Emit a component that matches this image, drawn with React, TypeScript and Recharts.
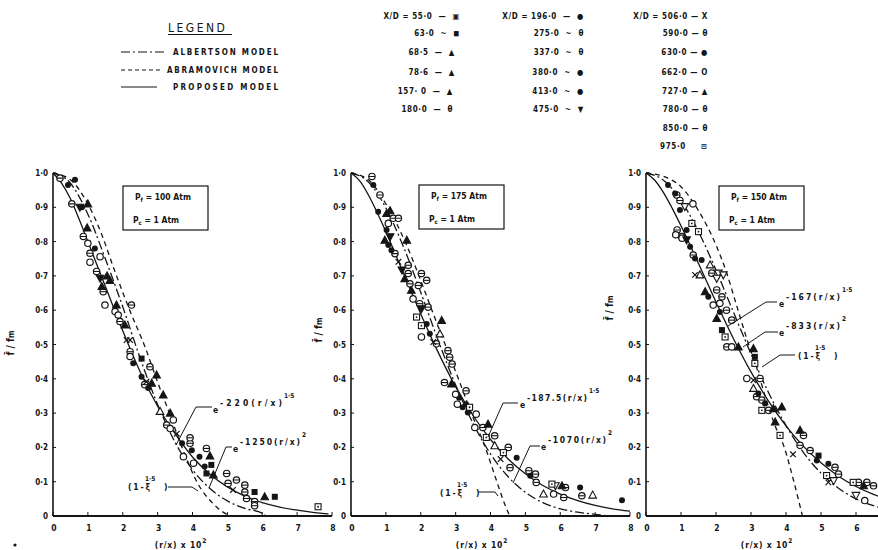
import React from 'react';
import { ComposedChart, Line, Scatter, XAxis, YAxis } from 'recharts';

// ticks
const X_TICKS_8 = [0, 1, 2, 3, 4, 5, 6, 7, 8];
const X_TICKS_6 = [0, 1, 2, 3, 4, 5, 6];
const Y_TICKS = [0, 0.1, 0.2, 0.3, 0.4, 0.5, 0.6, 0.7, 0.8, 0.9, 1];
const Y_TICK_LABELS = ['0', '0·1', '0·2', '0·3', '0·4', '0·5', '0·6', '0·7', '0·8', '0·9', '1·0'];

// --- Pf = 100 Atm : curves ---
const P1_PROPOSED_X = [0, 0.25, 0.5, 0.75, 1, 1.5, 2, 2.5, 3, 3.5, 4, 4.5, 5, 5.5, 6, 6.5, 7, 7.5, 7.9];
const P1_PROPOSED_Y = [1, 0.97, 0.925, 0.865, 0.8, 0.67, 0.54, 0.42, 0.32, 0.24, 0.172, 0.122, 0.085, 0.058, 0.039, 0.026, 0.017, 0.01, 0.006];
const P1_ALBERTSON_X = [0, 0.5, 1, 1.5, 2, 2.5, 3, 3.5, 4, 4.5, 5, 5.5, 6, 6.1];
const P1_ALBERTSON_Y = [1, 0.97, 0.88, 0.75, 0.61, 0.46, 0.325, 0.215, 0.135, 0.08, 0.044, 0.022, 0.008, 0];
const P1_ABRAMOVICH_X = [0, 0.5, 1, 1.4, 1.75, 2.2, 2.65, 3, 3.3, 3.7, 4.15, 4.6, 5.05];
const P1_ABRAMOVICH_Y = [1, 0.98, 0.91, 0.82, 0.72, 0.6, 0.49, 0.39, 0.31, 0.2, 0.095, 0.035, 0];

// --- Pf = 100 Atm : measured points ---
const P1_THETA = [[0.2, 0.985], [0.54, 0.91], [0.87, 0.815], [1.06, 0.766], [1.25, 0.713], [1.44, 0.654], [1.92, 0.567], [2.25, 0.615], [2.21, 0.479], [2.78, 0.435], [2.63, 0.383], [3.26, 0.265], [3.93, 0.212], [3.93, 0.228], [4.4, 0.197], [4.98, 0.124], [5.02, 0.095], [5.26, 0.105], [5.5, 0.09], [5.5, 0.07], [5.55, 0.051], [5.78, 0.042], [5.78, 0.03]];
const P1_FILLED = [[0.43, 0.965], [0.63, 0.98], [0.83, 0.9], [1.2, 0.78], [2.3, 0.445], [2.54, 0.406], [2.73, 0.373], [3.7, 0.212], [3.98, 0.192], [4.2, 0.173], [4.35, 0.144]];
const P1_OPEN = [[1.06, 0.74], [1.0, 0.795], [1.35, 0.756], [1.49, 0.615], [1.78, 0.596], [1.87, 0.586], [2.21, 0.465], [3.36, 0.255], [3.45, 0.28], [3.74, 0.173], [4.03, 0.154]];
const P1_TRI = [[1.0, 0.91], [0.98, 0.84], [1.4, 0.669], [1.55, 0.7], [1.63, 0.687], [1.82, 0.615], [2.06, 0.557], [2.83, 0.387], [2.97, 0.411], [3.16, 0.353], [3.36, 0.3], [4.5, 0.175], [4.6, 0.12], [6.07, 0.056]];
const P1_OPEN_TRI = [[3.07, 0.305]];
const P1_DOWN_TRI = [[0.77, 0.9], [1.35, 0.693]];
const P1_SQUARE = [[2.54, 0.459], [4.54, 0.149], [4.4, 0.124], [5.78, 0.07], [6.36, 0.056]];
const P1_OPEN_SQUARE = [[7.6, 0.027]];
const P1_CROSS = [[2.11, 0.513], [2.21, 0.513], [2.68, 0.392], [3.55, 0.24], [5.16, 0.076]];

// --- Pf = 175 Atm : curves ---
const P2_PROPOSED_X = [0, 0.25, 0.5, 0.75, 1, 1.5, 2, 2.5, 3, 3.5, 4, 4.5, 5, 5.5, 6, 6.5, 7, 7.5, 8];
const P2_PROPOSED_Y = [1, 0.977, 0.936, 0.885, 0.829, 0.709, 0.589, 0.477, 0.377, 0.293, 0.223, 0.167, 0.123, 0.089, 0.064, 0.045, 0.031, 0.021, 0.014];
const P2_ALBERTSON_X = [0, 0.5, 1, 1.5, 2, 2.5, 3, 3.5, 4, 4.5, 5, 5.5, 6, 6.5, 7, 7.4];
const P2_ALBERTSON_Y = [1, 0.974, 0.898, 0.786, 0.652, 0.512, 0.382, 0.27, 0.181, 0.115, 0.069, 0.039, 0.021, 0.011, 0.005, 0];
const P2_ABRAMOVICH_X = [0, 0.5, 1, 1.55, 1.95, 2.32, 2.7, 3.08, 3.45, 3.85, 4.15, 4.35, 4.55];
const P2_ABRAMOVICH_Y = [1, 0.98, 0.91, 0.8, 0.7, 0.6, 0.5, 0.4, 0.3, 0.2, 0.11, 0.05, 0];

// --- Pf = 175 Atm : measured points ---
const P2_THETA = [[0.6, 0.99], [0.83, 0.936], [1.21, 0.868], [1.36, 0.868], [1.26, 0.765], [1.64, 0.731], [1.64, 0.707], [1.69, 0.677], [1.93, 0.672], [2.02, 0.707], [2.17, 0.687], [1.97, 0.619], [2.21, 0.609], [2.45, 0.502], [2.78, 0.482], [2.83, 0.463], [2.9, 0.443], [2.68, 0.389], [3.3, 0.365], [3.78, 0.258], [4.12, 0.234], [4.51, 0.2], [4.56, 0.141], [5.1, 0.132], [5.29, 0.122], [5.31, 0.098], [6.15, 0.083], [6.1, 0.054], [6.62, 0.059]];
const P2_FILLED = [[0.64, 0.965], [0.78, 0.887], [1.02, 0.834], [1.07, 0.79], [1.16, 0.775], [2.17, 0.56], [2.26, 0.531], [3.1, 0.345], [3.2, 0.317], [3.3, 0.326], [3.35, 0.302], [4.75, 0.17], [5.14, 0.117], [6.57, 0.083], [7.77, 0.046]];
const P2_OPEN = [[1.07, 0.853], [1.78, 0.633], [2.02, 0.522], [3.0, 0.355], [3.05, 0.326], [3.59, 0.297], [3.55, 0.258], [5.81, 0.064]];
const P2_TRI = [[1.02, 0.882], [1.12, 0.89], [0.97, 0.804], [1.6, 0.804], [1.54, 0.692], [1.73, 0.658], [2.6, 0.57], [2.88, 0.385], [3.93, 0.268], [6.05, 0.088]];
const P2_OPEN_TRI = [[2.55, 0.531], [4.12, 0.205], [5.52, 0.064], [6.93, 0.061]];
const P2_DOWN_TRI = [[1.12, 0.814], [1.46, 0.717], [2.02, 0.604]];
const P2_OPEN_DOWN_TRI = [[5.86, 0.088]];
const P2_OPEN_SQUARE = [[1.88, 0.58], [2.02, 0.555], [3.4, 0.317], [3.88, 0.229], [4.37, 0.185], [5.76, 0.093]];
const P2_CROSS = [[1.36, 0.741], [2.36, 0.507], [4.29, 0.166]];

// --- Pf = 150 Atm : curves ---
const P3_PROPOSED_X = [0, 0.25, 0.5, 0.75, 1, 1.5, 2, 2.5, 3, 3.5, 4, 4.5, 5, 5.5, 6, 6.5, 7];
const P3_PROPOSED_Y = [1, 0.979, 0.943, 0.897, 0.846, 0.736, 0.624, 0.517, 0.42, 0.335, 0.263, 0.203, 0.155, 0.116, 0.086, 0.063, 0.045];
const P3_ALBERTSON_X = [0, 0.5, 1, 1.5, 2, 2.5, 3, 3.5, 4, 4.5, 5, 5.5, 6, 6.5, 7];
const P3_ALBERTSON_Y = [1, 0.979, 0.92, 0.829, 0.717, 0.594, 0.473, 0.36, 0.264, 0.185, 0.125, 0.081, 0.05, 0.03, 0.017];
const P3_ABRAMOVICH_X = [0, 0.5, 1, 1.5, 2, 2.3, 2.6, 2.9, 3.2, 3.4, 3.7, 3.95, 4.2, 4.47];
const P3_ABRAMOVICH_Y = [1, 0.99, 0.96, 0.89, 0.79, 0.71, 0.61, 0.51, 0.42, 0.35, 0.26, 0.2, 0.11, 0];

// --- Pf = 150 Atm : measured points ---
const P3_THETA = [[0.88, 0.936], [0.97, 0.92], [1.02, 0.815], [0.89, 0.834], [1.35, 0.761], [1.88, 0.708], [2.02, 0.659], [2.17, 0.639], [2.3, 0.6], [2.31, 0.493], [2.45, 0.571], [3.26, 0.401], [3.16, 0.348], [3.31, 0.338], [3.5, 0.308], [4.5, 0.235], [4.4, 0.206], [4.69, 0.191], [5.4, 0.142], [5.5, 0.122], [6.07, 0.098], [6.31, 0.098], [6.5, 0.088]];
const P3_FILLED = [[0.63, 0.965], [0.83, 0.94], [0.97, 0.892], [1.16, 0.834], [1.26, 0.785], [1.4, 0.751], [1.59, 0.746], [1.78, 0.639], [2.11, 0.595], [3.21, 0.357], [3.4, 0.328], [4.88, 0.162], [5.21, 0.152]];
const P3_OPEN = [[1.34, 0.91], [0.85, 0.82], [1.03, 0.81], [1.92, 0.615], [2.11, 0.62], [2.45, 0.493], [2.88, 0.401], [6.25, 0.045]];
const P3_TRI = [[1.69, 0.654], [2.02, 0.576], [2.64, 0.493], [3.07, 0.488], [3.64, 0.313], [3.88, 0.318], [3.69, 0.274], [4.4, 0.25], [6.22, 0.088]];
const P3_OPEN_TRI = [[1.83, 0.732], [1.54, 0.703], [3.07, 0.372]];
const P3_DOWN_TRI = [[1.16, 0.805]];
const P3_OPEN_DOWN_TRI = [[1.11, 0.902], [2.07, 0.708], [2.21, 0.703], [2.02, 0.693], [5.36, 0.103], [6.0, 0.06]];
const P3_SQUARE = [[2.17, 0.542], [3.11, 0.464], [4.93, 0.176]];
const P3_OPEN_SQUARE = [[1.31, 0.853], [1.5, 0.829], [2.26, 0.522], [3.11, 0.445], [3.31, 0.308], [3.83, 0.235], [5.16, 0.118], [5.92, 0.098]];
const P3_CROSS = [[1.4, 0.703], [3.07, 0.396], [4.2, 0.18], [5.21, 0.098]];

const INK = '#151515';
const FONT = "'DejaVu Sans Condensed', 'DejaVu Sans', sans-serif";
const CHART_W = 900;
const CHART_H = 550;
const Y_AXIS_W = 30;
const X_AXIS_H = 20;

const zipXY = (xs: number[], ys: number[]) => xs.map((x, i) => ({ x, y: ys[i] }));
const pairs = (arr: number[][]) => arr.map(([x, y]) => ({ x, y }));

const Marker = ({ kind, cx, cy }: { kind: string; cx: number; cy: number }) => {
  if (cx == null || cy == null) return null;
  switch (kind) {
    case 'fc':
      return <circle cx={cx} cy={cy} r={3} fill={INK} />;
    case 'oc':
      return <circle cx={cx} cy={cy} r={3.2} fill="#fff" stroke={INK} strokeWidth={1.2} />;
    case 'th':
      return (
        <g>
          <circle cx={cx} cy={cy} r={3.2} fill="#fff" stroke={INK} strokeWidth={1.2} />
          <line x1={cx - 3} x2={cx + 3} y1={cy} y2={cy} stroke={INK} strokeWidth={1.1} />
        </g>
      );
    case 'ft':
    case 'ot':
      return (
        <polygon
          points={`${cx},${cy - 4} ${cx - 3.8},${cy + 3} ${cx + 3.8},${cy + 3}`}
          fill={kind === 'ft' ? INK : '#fff'}
          stroke={INK}
          strokeWidth={1.1}
        />
      );
    case 'fd':
    case 'od':
      return (
        <polygon
          points={`${cx},${cy + 4} ${cx - 3.8},${cy - 3} ${cx + 3.8},${cy - 3}`}
          fill={kind === 'fd' ? INK : '#fff'}
          stroke={INK}
          strokeWidth={1.1}
        />
      );
    case 'fs':
      return <rect x={cx - 3} y={cy - 3} width={6} height={6} fill={INK} />;
    case 'os':
      return (
        <g>
          <rect x={cx - 3} y={cy - 3} width={6} height={6} fill="#fff" stroke={INK} strokeWidth={1.1} />
          <circle cx={cx} cy={cy} r={0.9} fill={INK} />
        </g>
      );
    default:
      return (
        <g stroke={INK} strokeWidth={1.2}>
          <line x1={cx - 2.8} x2={cx + 2.8} y1={cy - 2.8} y2={cy + 2.8} />
          <line x1={cx - 2.8} x2={cx + 2.8} y1={cy + 2.8} y2={cy - 2.8} />
        </g>
      );
  }
};

const XTick = (props: any) => {
  const { x, y, payload } = props;
  return (
    <g>
      <line x1={x} x2={x} y1={y} y2={y - 4} stroke={INK} strokeWidth={1} />
      <text x={x + 1} y={y + 15} textAnchor="middle" fontSize={8.5} fontWeight="bold" fontFamily={FONT} fill={INK}>
        {payload.value}
      </text>
    </g>
  );
};

const YTick = (props: any) => {
  const { x, y, payload } = props;
  const idx = Y_TICKS.indexOf(payload.value);
  return (
    <g>
      <line x1={x} x2={x + 3} y1={y} y2={y} stroke={INK} strokeWidth={1} />
      <text x={x - 5} y={y + 3} textAnchor="end" fontSize={8} fontWeight="bold" fontFamily={FONT} fill={INK}>
        {Y_TICK_LABELS[idx]}
      </text>
    </g>
  );
};

interface CurveSpec { data: { x: number; y: number }[]; dash?: string }
interface MarkerSpec { data: { x: number; y: number }[]; kind: string }

const Panel = ({ left, right, xMax, xTicks, curves, markers }: {
  left: number; right: number; xMax: number; xTicks: number[]; curves: CurveSpec[]; markers: MarkerSpec[];
}) => (
  <div style={{ position: 'absolute', left: 0, top: 0 }}>
    <ComposedChart
      width={CHART_W}
      height={CHART_H}
      margin={{ top: 173, bottom: 34 - X_AXIS_H, left: left - Y_AXIS_W, right: CHART_W - right }}
    >
      <XAxis
        type="number"
        dataKey="x"
        domain={[0, xMax]}
        ticks={xTicks}
        height={X_AXIS_H}
        tickSize={0}
        tickMargin={0}
        tickLine={false}
        tick={<XTick />}
        axisLine={{ stroke: INK, strokeWidth: 1.8 }}
        allowDataOverflow
      />
      <YAxis
        type="number"
        dataKey="y"
        domain={[0, 1]}
        ticks={Y_TICKS}
        width={Y_AXIS_W}
        tickSize={0}
        tickMargin={0}
        tickLine={false}
        tick={<YTick />}
        axisLine={{ stroke: INK, strokeWidth: 1.6 }}
      />
      {curves.map((c, i) => (
        <Line
          key={`c${i}`}
          data={c.data}
          dataKey="y"
          type="monotone"
          dot={false}
          stroke={INK}
          strokeWidth={1.3}
          strokeDasharray={c.dash}
          isAnimationActive={false}
        />
      ))}
      {markers.map((m, i) => (
        <Scatter
          key={`m${i}`}
          data={m.data}
          dataKey="y"
          isAnimationActive={false}
          shape={(p: any) => <Marker kind={m.kind} cx={p.cx} cy={p.cy} />}
        />
      ))}
    </ComposedChart>
  </div>
);

const DASH = '5 4';
const DASH_DOT = '9 3 2 3';

const txt = { fontFamily: FONT, fontWeight: 'bold' as const, fill: INK };

const MIDDLE_LEGEND: [number, number, string][] = [
  [460, 19, 'X/D = 55·0  —  ▣'], [460, 36, '63·0  ~  ◼'], [455, 55, '68·5  —  ▲'], [455, 75, '78·6  —  ▲'], [453, 94, '157· 0  —  ▲'], [453, 112, '180·0  —  θ'],
  [584, 19, 'X/D = 196·0  —  ●'], [584, 36, '275·0  ~  θ'], [584, 55, '337·0  ~  θ'], [584, 75, '380·0  ~  ●'], [584, 94, '413·0  ~  ●'], [584, 112, '475·0  ~  ▼'],
  [708, 19, 'X/D = 506·0 — X'], [708, 36, '590·0 — θ'], [708, 55, '630·0 — ●'], [708, 75, '662·0 — O'], [708, 94, '727·0 — ▲'], [708, 112, '780·0 — θ'], [708, 131, '850·0 — θ'], [708, 149, '975·0     ⊡'],
];

const PBox = ({ x, y, pf }: { x: number; y: number; pf: string }) => (
  <g>
    <rect x={x} y={y} width={85} height={44} fill="#fff" stroke={INK} strokeWidth={1.2} />
    <text x={x + 12} y={y + 14} fontSize={8.5} {...txt}>
      P<tspan fontSize={6} dy={2}>f</tspan><tspan dy={-2}>{` = ${pf} Atm`}</tspan>
    </text>
    <text x={x + 10} y={y + 37} fontSize={8.5} {...txt}>
      P<tspan fontSize={6} dy={2}>c</tspan><tspan dy={-2}>{' = 1 Atm'}</tspan>
    </text>
  </g>
);

const ExpLabel = ({ x, y, coef, pow, w }: { x: number; y: number; coef: string; pow: string; w: number }) => (
  <g>
    <text x={x} y={y} fontSize={8.5} {...txt}>e</text>
    <text x={x + 7} y={y - 7} fontSize={8.5} textLength={w} lengthAdjust="spacing" {...txt}>{`-${coef}(r/x)`}</text>
    <text x={x + 9 + w} y={y - 15} fontSize={6.5} {...txt}>{pow}</text>
  </g>
);

const XiLabel = ({ x, y }: { x: number; y: number }) => (
  <g>
    <text x={x} y={y} fontSize={8.5} textLength={22} lengthAdjust="spacing" {...txt}>(1-ξ</text>
    <text x={x + 17} y={y - 9} fontSize={6.5} {...txt}>1·5</text>
    <text x={x + 36} y={y} fontSize={8.5} {...txt}>)</text>
  </g>
);

const Overlay = () => (
  <svg width={878} height={550} style={{ position: 'absolute', left: 0, top: 0, pointerEvents: 'none' }}>
    {/* legend */}
    <text x={168} y={32} fontSize={12} letterSpacing={2.5} {...txt} fontWeight="normal">LEGEND</text>
    <line x1={168} x2={232} y1={34.5} y2={34.5} stroke={INK} strokeWidth={1} />
    <line x1={121} x2={165} y1={52} y2={52} stroke={INK} strokeWidth={1.2} strokeDasharray={DASH_DOT} />
    <text x={173} y={55} fontSize={8} textLength={105} {...txt}>ALBERTSON  MODEL</text>
    <line x1={121} x2={162} y1={70} y2={70} stroke={INK} strokeWidth={1.2} strokeDasharray="4 3" />
    <text x={167} y={73} fontSize={8} textLength={111} {...txt}>ABRAMOVICH  MODEL</text>
    <line x1={121} x2={157} y1={87} y2={87} stroke={INK} strokeWidth={1.2} />
    <text x={173} y={90} fontSize={8} textLength={105} {...txt}>PROPOSED  MODEL</text>

    {MIDDLE_LEGEND.map(([x, y, s], i) => (
      <text key={i} x={x} y={y} fontSize={8} textAnchor="end" letterSpacing={0.6} {...txt} style={{ whiteSpace: 'pre' }}>{s}</text>
    ))}

    {/* condition boxes */}
    <PBox x={123} y={186} pf="100" />
    <PBox x={419} y={185} pf="175" />
    <PBox x={719} y={186} pf="150" />

    {/* curve labels, Pf = 100 */}
    <polyline points="212,407 196,407 176,445" fill="none" stroke={INK} strokeWidth={1} />
    <ExpLabel x={213} y={413} coef="220" pow="1·5" w={62} />
    <polyline points="232,447 226,447 209,488" fill="none" stroke={INK} strokeWidth={1} />
    <ExpLabel x={233} y={452} coef="1250" pow="2" w={60} />
    <polyline points="168,487 192,487 198,491" fill="none" stroke={INK} strokeWidth={1} />
    <XiLabel x={128} y={490} />

    {/* curve labels, Pf = 175 */}
    <polyline points="518,403 503,403 488,437" fill="none" stroke={INK} strokeWidth={1} />
    <ExpLabel x={520} y={408} coef="187.5" pow="1·5" w={60} />
    <polyline points="540,446 530,446 513,483" fill="none" stroke={INK} strokeWidth={1} />
    <ExpLabel x={541} y={450} coef="1070" pow="2" w={58} />
    <polyline points="478,492 495,492 498,496" fill="none" stroke={INK} strokeWidth={1} />
    <XiLabel x={440} y={496} />

    {/* curve labels, Pf = 150 */}
    <polyline points="777,302 766,302 728,326" fill="none" stroke={INK} strokeWidth={1} />
    <ExpLabel x={779} y={307} coef="167" pow="1·5" w={54} />
    <polyline points="778,332 765,332 743,347" fill="none" stroke={INK} strokeWidth={1} />
    <ExpLabel x={779} y={336} coef="833" pow="2" w={54} />
    <polyline points="795,355 780,355 762,367" fill="none" stroke={INK} strokeWidth={1} />
    <XiLabel x={798} y={359} />

    {/* axis titles */}
    {[[14, 343], [322, 330], [613, 308]].map(([x, y], i) => (
      <text key={i} x={x} y={y} fontSize={10} textAnchor="middle" transform={`rotate(-90 ${x} ${y})`} {...txt}>
        f̄ / f<tspan fontSize={8}>m</tspan>
      </text>
    ))}
    {[181, 482, 767].map((cx, i) => (
      <text key={i} x={cx} y={548} fontSize={8.5} textAnchor="middle" letterSpacing={0.8} {...txt}>
        (r/x) x 10<tspan fontSize={6.5} dy={-5}>2</tspan>
      </text>
    ))}
    <circle cx={15} cy={545} r={1.6} fill={INK} />
  </svg>
);

export default function App() {
  const panel1 = {
    curves: [
      { data: zipXY(P1_PROPOSED_X, P1_PROPOSED_Y) },
      { data: zipXY(P1_ALBERTSON_X, P1_ALBERTSON_Y), dash: DASH_DOT },
      { data: zipXY(P1_ABRAMOVICH_X, P1_ABRAMOVICH_Y), dash: DASH },
    ],
    markers: [
      { data: pairs(P1_THETA), kind: 'th' }, { data: pairs(P1_FILLED), kind: 'fc' }, { data: pairs(P1_OPEN), kind: 'oc' },
      { data: pairs(P1_TRI), kind: 'ft' }, { data: pairs(P1_OPEN_TRI), kind: 'ot' }, { data: pairs(P1_DOWN_TRI), kind: 'fd' },
      { data: pairs(P1_SQUARE), kind: 'fs' }, { data: pairs(P1_OPEN_SQUARE), kind: 'os' }, { data: pairs(P1_CROSS), kind: 'xx' },
    ],
  };
  const panel2 = {
    curves: [
      { data: zipXY(P2_PROPOSED_X, P2_PROPOSED_Y) },
      { data: zipXY(P2_ALBERTSON_X, P2_ALBERTSON_Y), dash: DASH_DOT },
      { data: zipXY(P2_ABRAMOVICH_X, P2_ABRAMOVICH_Y), dash: DASH },
    ],
    markers: [
      { data: pairs(P2_THETA), kind: 'th' }, { data: pairs(P2_FILLED), kind: 'fc' }, { data: pairs(P2_OPEN), kind: 'oc' },
      { data: pairs(P2_TRI), kind: 'ft' }, { data: pairs(P2_OPEN_TRI), kind: 'ot' }, { data: pairs(P2_DOWN_TRI), kind: 'fd' },
      { data: pairs(P2_OPEN_DOWN_TRI), kind: 'od' }, { data: pairs(P2_OPEN_SQUARE), kind: 'os' }, { data: pairs(P2_CROSS), kind: 'xx' },
    ],
  };
  const panel3 = {
    curves: [
      { data: zipXY(P3_PROPOSED_X, P3_PROPOSED_Y) },
      { data: zipXY(P3_ALBERTSON_X, P3_ALBERTSON_Y), dash: DASH_DOT },
      { data: zipXY(P3_ABRAMOVICH_X, P3_ABRAMOVICH_Y), dash: DASH },
    ],
    markers: [
      { data: pairs(P3_THETA), kind: 'th' }, { data: pairs(P3_FILLED), kind: 'fc' }, { data: pairs(P3_OPEN), kind: 'oc' },
      { data: pairs(P3_TRI), kind: 'ft' }, { data: pairs(P3_OPEN_TRI), kind: 'ot' }, { data: pairs(P3_DOWN_TRI), kind: 'fd' },
      { data: pairs(P3_OPEN_DOWN_TRI), kind: 'od' }, { data: pairs(P3_SQUARE), kind: 'fs' }, { data: pairs(P3_OPEN_SQUARE), kind: 'os' },
      { data: pairs(P3_CROSS), kind: 'xx' },
    ],
  };

  return (
    <div style={{ position: 'fixed', left: 0, top: 0, width: 878, height: 550, overflow: 'hidden', background: '#fff' }}>
      <Panel left={53} right={332} xMax={8} xTicks={X_TICKS_8} {...panel1} />
      <Panel left={351} right={630} xMax={8} xTicks={X_TICKS_8} {...panel2} />
      <Panel left={646} right={891} xMax={7} xTicks={X_TICKS_6} {...panel3} />
      <Overlay />
    </div>
  );
}
